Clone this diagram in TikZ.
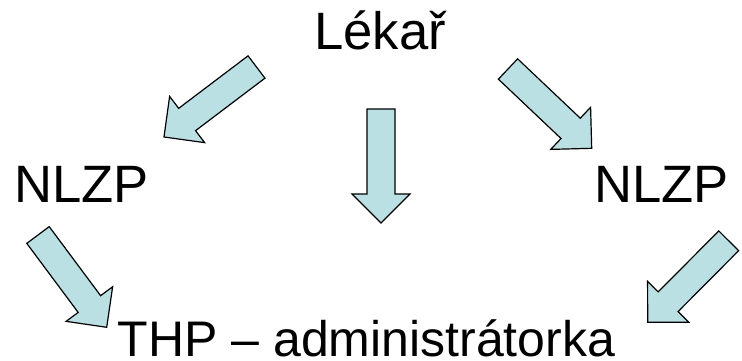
\documentclass[tikz,border=0pt]{standalone}
\usepackage{fontspec}
\setmainfont{Liberation Sans}
\usepackage{tikz}
\usetikzlibrary{calc}
\definecolor{powderblue}{rgb}{0.73, 0.88, 0.89}

\newcommand{\blockarrow}[2]{%
	\coordinate (hb) at ($(#2)!29pt!(#1)$);
	\draw[fatarrow] ($(#1)!14pt!90:(#2)$) -- ($(hb)!14pt!-90:(#1)$)
		-- ($(hb)!29pt!-90:(#1)$) -- (#2) -- ($(hb)!29pt!90:(#1)$)
		-- ($(hb)!14pt!90:(#1)$) -- ($(#1)!14pt!-90:(#2)$) -- cycle;}

\begin{document}
\begin{tikzpicture}[x=1pt, y=-1pt,
		word/.style={anchor=base, inner sep=0pt, font=\fontsize{52.6}{60}\selectfont},
		fatarrow/.style={fill=powderblue, draw=black, line width=1.2pt}]
	\useasboundingbox (0,0) rectangle (742,361);

	\node[word] (lekar) at (380,50) {Lékař};
	\node[word] (nlzpL) at (81.5,202.7) {NLZP};
	\node[word] (nlzpR) at (661.5,202.7) {NLZP};
	\node[word, font=\fontsize{50}{60}\selectfont] (thp) at (366.5,356.5) {THP – administrátorka};

	\coordinate (p1) at (256.5,67);
	\coordinate (P1) at (164,137);

	\coordinate (p2) at (381,109);
	\coordinate (P2) at (381,223);

	\coordinate (p3) at (508,69);
	\coordinate (P3) at (591.7,148.3);

	\coordinate (p4) at (38,235);
	\coordinate (P4) at (106.7,327.3);

	\coordinate (p5) at (728.7,240.8);
	\coordinate (P5) at (647.7,322.3);

	\blockarrow{p1}{P1}
	\blockarrow{p2}{P2}
	\blockarrow{p3}{P3}
	\blockarrow{p4}{P4}
	\blockarrow{p5}{P5}
\end{tikzpicture}
\end{document}
